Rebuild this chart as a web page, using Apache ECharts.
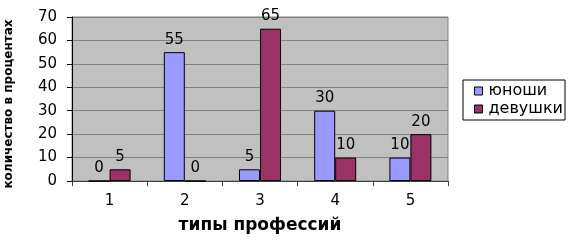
<!DOCTYPE html>
<html><head><meta charset="utf-8">
<script src="https://cdn.jsdelivr.net/npm/echarts@6/dist/echarts.min.js"></script>
<style>html,body{margin:0;padding:0;background:#fff}#c{width:569px;height:248px}</style>
</head><body><div id="c"></div>
<script>
const categories = ['1','2','3','4','5'];
const boys = [0, 55, 5, 30, 10];
const girls = [5, 0, 65, 10, 20];
const seriesNames = ['юноши', 'девушки'];
const yTicks = {min: 0, max: 70, interval: 10};

const font = '"DejaVu Sans", Verdana, sans-serif';
const chart = echarts.init(document.getElementById('c'), null, {renderer: 'canvas'});
const labelCfg = {show: true, position: 'top', color: '#000', fontFamily: font, fontSize: 15, distance: 5};
chart.setOption({
  animation: false,
  backgroundColor: '#fff',
  grid: {left: 72, right: 121, top: 17, bottom: 67, outerBoundsMode: 'none', containLabel: false,
         show: true, backgroundColor: '#C0C0C0', borderColor: '#808080', borderWidth: 1},
  legend: {
    orient: 'vertical', left: 463, top: 80, itemWidth: 8, itemHeight: 8, itemGap: 2,
    padding: [3, 2, 3, 11],
    borderColor: '#000', borderWidth: 1,
    textStyle: {fontFamily: font, fontSize: 16, color: '#000', padding: [0, 0, 0, 1]},
    data: seriesNames.map(n => ({name: n, icon: 'rect', itemStyle: {borderColor: '#000', borderWidth: 1}}))
  },
  xAxis: {
    type: 'category', data: categories,
    name: 'типы профессий', nameLocation: 'middle', nameGap: 36,
    nameTextStyle: {fontFamily: font, fontSize: 17, fontWeight: 'bold', color: '#000'},
    axisLine: {lineStyle: {color: '#404040'}},
    axisTick: {show: true, length: 5, lineStyle: {color: '#404040'}},
    axisLabel: {fontFamily: font, fontSize: 15, color: '#000', margin: 13}
  },
  yAxis: {
    type: 'value', min: yTicks.min, max: yTicks.max, interval: yTicks.interval,
    name: 'количество в процентах', nameLocation: 'middle', nameGap: 57, nameRotate: 90,
    nameTextStyle: {fontFamily: font, fontSize: 12, fontWeight: 'bold', color: '#000', padding: [0, 10, 0, 0]},
    axisLine: {show: true, lineStyle: {color: '#000'}},
    axisTick: {show: true, length: 5, lineStyle: {color: '#000'}},
    axisLabel: {fontFamily: font, fontSize: 15, color: '#000', margin: 15},
    splitLine: {show: true, lineStyle: {color: '#808080', width: 1}}
  },
  series: [
    {name: seriesNames[0], type: 'bar', data: boys, barWidth: 21, barGap: '0%',
     itemStyle: {color: '#9999FF', borderColor: '#000', borderWidth: 1}, label: labelCfg},
    {name: seriesNames[1], type: 'bar', data: girls, barWidth: 21,
     itemStyle: {color: '#993366', borderColor: '#000', borderWidth: 1}, label: labelCfg}
  ]
});
</script></body></html>
